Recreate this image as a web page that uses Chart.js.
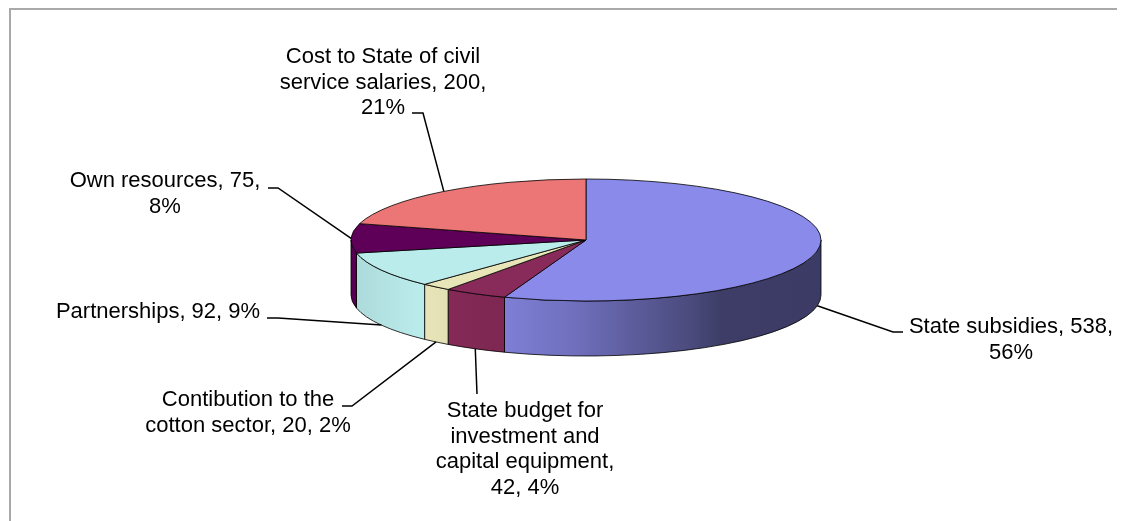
<!DOCTYPE html>
<html>
<head>
<meta charset="utf-8">
<title>Budget sources</title>
<script src="https://cdn.jsdelivr.net/npm/chart.js@4.4.1/dist/chart.umd.min.js"></script>
<style>
    html, body { margin: 0; padding: 0; background: #fff; }
    #wrap { width: 1125px; height: 521px; }
</style>
</head>
<body>
<div id="wrap"><canvas id="pieChart" width="1125" height="521"></canvas></div>
<script>
// Slices, clockwise from 12 o'clock
const categories = [
    'State subsidies',
    'State budget for investment and capital equipment',
    'Contibution to the cotton sector',
    'Partnerships',
    'Own resources',
    'Cost to State of civil service salaries'
];
const amounts = [538, 42, 20, 92, 75, 200];
const percentLabels = ['56%', '4%', '2%', '9%', '8%', '21%'];
const sliceColors = ['#8a8aea', '#892b5a', '#e8e6b9', '#bbecec', '#5e0058', '#ec7676'];

// Where each callout sits: text centre, first baseline, wrap width, elbow stub
const callouts = [
    { x: 1011, y: 333, wrap: 220, stub: [903, 332, 893, 332] },
    { x: 525, y: 417, wrap: 190, stub: [477, 394, 477, 394] },
    { x: 248, y: 406, wrap: 220, stub: [342, 406, 352, 406] },
    { x: 158, y: 318, wrap: 220, stub: [267, 318, 278, 318] },
    { x: 165, y: 187, wrap: 220, stub: [268, 188, 278, 188] },
    { x: 383, y: 63, wrap: 220, stub: [412, 113, 423, 113] }
];

const DEPTH = 55;          // height of the pie wall
const TILT = 61 / 235;     // vertical squash of the top face
const LINE_H = 25.7;
const FONT = '22px "Liberation Sans", Arial, sans-serif';

// brightness of the wall across the pie width (lit from the front-left)
const wallShade = [[0, 0.92], [0.15, 1.0], [0.33, 0.91], [0.47, 0.81], [0.57, 0.70], [0.72, 0.54], [0.79, 0.44], [1, 0.43]];

function shade(hex, f) {
    const n = parseInt(hex.slice(1), 16);
    const r = Math.round(((n >> 16) & 255) * f);
    const g = Math.round(((n >> 8) & 255) * f);
    const b = Math.round((n & 255) * f);
    return `rgb(${r},${g},${b})`;
}

function wrapText(ctx, text, maxWidth) {
    const words = text.split(' ');
    const lines = [];
    let line = '';
    words.forEach(w => {
        const test = line ? line + ' ' + w : w;
        if (line && ctx.measureText(test).width > maxWidth) {
            lines.push(line);
            line = w;
        } else {
            line = test;
        }
    });
    if (line) lines.push(line);
    return lines;
}

// Draw the pie as a tilted disc with a front wall
const pie3d = {
    id: 'pie3d',
    beforeDatasetDraw() {
        return false;
    },
    afterDatasetsDraw(chart) {
        const ctx = chart.ctx;
        const arcs = chart.getDatasetMeta(0).data;
        const { x: cx, y: cy, outerRadius: r } = arcs[0];
        const ry = r * TILT;

        ctx.save();
        ctx.lineWidth = 1;
        ctx.strokeStyle = 'rgba(0,0,0,0.8)';
        ctx.lineJoin = 'round';

        // front wall, only the part facing the viewer (0..PI)
        arcs.forEach((arc, i) => {
            const a0 = Math.max(arc.startAngle, 0);
            const a1 = Math.min(arc.endAngle, Math.PI);
            if (a1 <= a0) return;
            ctx.beginPath();
            ctx.ellipse(cx, cy, r, ry, 0, a0, a1);
            ctx.ellipse(cx, cy + DEPTH, r, ry, 0, a1, a0, true);
            ctx.closePath();
            const grad = ctx.createLinearGradient(cx - r, 0, cx + r, 0);
            wallShade.forEach(([t, f]) => grad.addColorStop(t, shade(sliceColors[i], f)));
            ctx.fillStyle = grad;
            ctx.fill();
            ctx.stroke();
        });

        // top faces
        arcs.forEach((arc, i) => {
            ctx.beginPath();
            ctx.moveTo(cx, cy);
            ctx.ellipse(cx, cy, r, ry, 0, arc.startAngle, arc.endAngle);
            ctx.closePath();
            ctx.fillStyle = sliceColors[i];
            ctx.fill();
            ctx.stroke();
        });
        ctx.restore();
    }
};

// Data labels with leader lines
const calloutLabels = {
    id: 'calloutLabels',
    afterDraw(chart) {
        const ctx = chart.ctx;
        const arcs = chart.getDatasetMeta(0).data;
        ctx.save();
        ctx.font = FONT;
        ctx.fillStyle = '#000';
        ctx.textAlign = 'center';
        ctx.textBaseline = 'alphabetic';
        ctx.strokeStyle = '#000';
        ctx.lineWidth = 1.5;

        arcs.forEach((arc, i) => {
            const c = callouts[i];
            const text = `${categories[i]}, ${amounts[i]}, ${percentLabels[i]}`;
            wrapText(ctx, text, c.wrap).forEach((line, k) => {
                ctx.fillText(line, c.x, c.y + k * LINE_H);
            });

            // leader meets the slice edge at its middle angle
            const mid = (arc.startAngle + arc.endAngle) / 2;
            const ry = arc.outerRadius * TILT;
            const px = arc.x + arc.outerRadius * Math.cos(mid);
            const py = arc.y + ry * Math.sin(mid) + (Math.sin(mid) > 0 ? DEPTH : 0);
            const [x0, y0, x1, y1] = c.stub;
            ctx.beginPath();
            ctx.moveTo(x0, y0);
            ctx.lineTo(x1, y1);
            ctx.lineTo(px, py);
            ctx.stroke();
        });
        ctx.restore();
    }
};

// Grey frame along the top and left
const frame = {
    id: 'frame',
    beforeDraw(chart) {
        const ctx = chart.ctx;
        ctx.save();
        ctx.fillStyle = '#fff';
        ctx.fillRect(0, 0, chart.width, chart.height);
        ctx.fillStyle = '#a9a9a9';
        ctx.fillRect(9, 8, 1108, 2);
        ctx.fillRect(9, 8, 2, chart.height - 8);
        ctx.restore();
    }
};

const pieChart = new Chart(document.getElementById('pieChart'), {
    type: 'pie',
    data: {
        labels: categories,
        datasets: [{
            data: amounts,
            backgroundColor: sliceColors,
            borderWidth: 0
        }]
    },
    options: {
        responsive: false,
        animation: false,
        events: [],
        layout: {
            padding: { left: 351, right: 304, top: 5, bottom: 46 }
        },
        plugins: {
            legend: { display: false },
            tooltip: { enabled: false }
        }
    },
    plugins: [frame, pie3d, calloutLabels]
});
</script>
</body>
</html>
